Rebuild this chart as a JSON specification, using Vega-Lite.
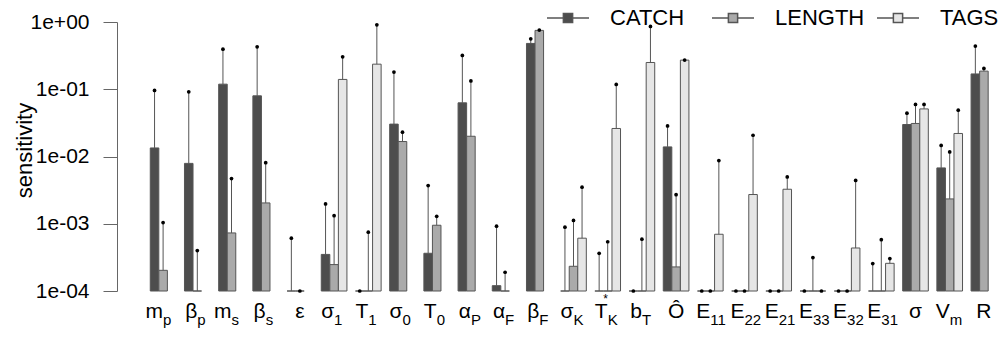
{
 "$schema": "https://vega.github.io/schema/vega-lite/v6.json",
 "width": 855, "height": 269,
 "autosize": {"type": "none"},
 "padding": {"left": 146, "top": 22, "right": 5, "bottom": 47},
 "config": {"view": {"stroke": null}, "font": "Liberation Sans"},
 "datasets": {
  "bars": [
   {"key": "mp", "series": "CATCH", "value": 0.0134, "upper": 0.096},
   {"key": "mp", "series": "LENGTH", "value": 0.000203, "upper": 0.00104},
   {"key": "bp", "series": "CATCH", "value": 0.0079, "upper": 0.0915},
   {"key": "bp", "series": "LENGTH", "value": 0.0001, "upper": 0.0004},
   {"key": "ms", "series": "CATCH", "value": 0.119, "upper": 0.395},
   {"key": "ms", "series": "LENGTH", "value": 0.00073, "upper": 0.0047},
   {"key": "bs", "series": "CATCH", "value": 0.0798, "upper": 0.427},
   {"key": "bs", "series": "LENGTH", "value": 0.00204, "upper": 0.0081},
   {"key": "eps", "series": "CATCH", "value": 0.0001, "upper": 0.00061},
   {"key": "eps", "series": "LENGTH", "value": 0.0001, "upper": 0.0001},
   {"key": "s1", "series": "CATCH", "value": 0.00035, "upper": 0.00197},
   {"key": "s1", "series": "LENGTH", "value": 0.000247, "upper": 0.00132},
   {"key": "s1", "series": "TAGS", "value": 0.14, "upper": 0.303},
   {"key": "T1", "series": "CATCH", "value": 0.0001, "upper": 0.0001},
   {"key": "T1", "series": "LENGTH", "value": 0.0001, "upper": 0.00075},
   {"key": "T1", "series": "TAGS", "value": 0.236, "upper": 0.908},
   {"key": "s0", "series": "CATCH", "value": 0.0303, "upper": 0.18},
   {"key": "s0", "series": "LENGTH", "value": 0.0167, "upper": 0.023},
   {"key": "T0", "series": "CATCH", "value": 0.000364, "upper": 0.0037},
   {"key": "T0", "series": "LENGTH", "value": 0.00095, "upper": 0.00129},
   {"key": "aP", "series": "CATCH", "value": 0.0628, "upper": 0.318},
   {"key": "aP", "series": "LENGTH", "value": 0.02, "upper": 0.133},
   {"key": "aF", "series": "CATCH", "value": 0.00012, "upper": 0.00092},
   {"key": "aF", "series": "LENGTH", "value": 0.0001, "upper": 0.00019},
   {"key": "bF", "series": "CATCH", "value": 0.48, "upper": 0.562},
   {"key": "bF", "series": "LENGTH", "value": 0.75, "upper": 0.76},
   {"key": "sK", "series": "CATCH", "value": 0.0001, "upper": 0.00089},
   {"key": "sK", "series": "LENGTH", "value": 0.000233, "upper": 0.00112},
   {"key": "sK", "series": "TAGS", "value": 0.00061, "upper": 0.0035},
   {"key": "TK", "series": "CATCH", "value": 0.0001, "upper": 0.000364},
   {"key": "TK", "series": "LENGTH", "value": 0.0001, "upper": 0.00054},
   {"key": "TK", "series": "TAGS", "value": 0.0261, "upper": 0.118},
   {"key": "bT", "series": "CATCH", "value": 0.0001, "upper": 0.0001},
   {"key": "bT", "series": "LENGTH", "value": 0.0001, "upper": 0.00059},
   {"key": "bT", "series": "TAGS", "value": 0.25, "upper": 0.86},
   {"key": "O", "series": "CATCH", "value": 0.0139, "upper": 0.0285},
   {"key": "O", "series": "LENGTH", "value": 0.000228, "upper": 0.0027},
   {"key": "O", "series": "TAGS", "value": 0.271, "upper": 0.272},
   {"key": "E11", "series": "CATCH", "value": 0.0001, "upper": 0.0001},
   {"key": "E11", "series": "LENGTH", "value": 0.0001, "upper": 0.0001},
   {"key": "E11", "series": "TAGS", "value": 0.000698, "upper": 0.0087},
   {"key": "E22", "series": "CATCH", "value": 0.0001, "upper": 0.0001},
   {"key": "E22", "series": "LENGTH", "value": 0.0001, "upper": 0.0001},
   {"key": "E22", "series": "TAGS", "value": 0.00272, "upper": 0.0207},
   {"key": "E21", "series": "CATCH", "value": 0.0001, "upper": 0.0001},
   {"key": "E21", "series": "LENGTH", "value": 0.0001, "upper": 0.0001},
   {"key": "E21", "series": "TAGS", "value": 0.00326, "upper": 0.00497},
   {"key": "E33", "series": "CATCH", "value": 0.0001, "upper": 0.0001},
   {"key": "E33", "series": "LENGTH", "value": 0.0001, "upper": 0.000314},
   {"key": "E33", "series": "TAGS", "value": 0.0001, "upper": 0.0001},
   {"key": "E32", "series": "CATCH", "value": 0.0001, "upper": 0.0001},
   {"key": "E32", "series": "LENGTH", "value": 0.0001, "upper": 0.0001},
   {"key": "E32", "series": "TAGS", "value": 0.000436, "upper": 0.0044},
   {"key": "E31", "series": "CATCH", "value": 0.0001, "upper": 0.000256},
   {"key": "E31", "series": "LENGTH", "value": 0.0001, "upper": 0.00058},
   {"key": "E31", "series": "TAGS", "value": 0.000258, "upper": 0.000303},
   {"key": "sig", "series": "CATCH", "value": 0.0299, "upper": 0.044},
   {"key": "sig", "series": "LENGTH", "value": 0.031, "upper": 0.0594},
   {"key": "sig", "series": "TAGS", "value": 0.051, "upper": 0.0594},
   {"key": "Vm", "series": "CATCH", "value": 0.00677, "upper": 0.0146},
   {"key": "Vm", "series": "LENGTH", "value": 0.00234, "upper": 0.0117},
   {"key": "Vm", "series": "TAGS", "value": 0.022, "upper": 0.0489},
   {"key": "R", "series": "CATCH", "value": 0.169, "upper": 0.438},
   {"key": "R", "series": "LENGTH", "value": 0.186, "upper": 0.204}
  ],
  "labels": [
   {"key": "mp", "base": "m", "sub": "p", "sup": ""},
   {"key": "bp", "base": "β", "sub": "p", "sup": ""},
   {"key": "ms", "base": "m", "sub": "s", "sup": ""},
   {"key": "bs", "base": "β", "sub": "s", "sup": ""},
   {"key": "eps", "base": "ε", "sub": "", "sup": ""},
   {"key": "s1", "base": "σ", "sub": "1", "sup": ""},
   {"key": "T1", "base": "T", "sub": "1", "sup": ""},
   {"key": "s0", "base": "σ", "sub": "0", "sup": ""},
   {"key": "T0", "base": "T", "sub": "0", "sup": ""},
   {"key": "aP", "base": "α", "sub": "P", "sup": ""},
   {"key": "aF", "base": "α", "sub": "F", "sup": ""},
   {"key": "bF", "base": "β", "sub": "F", "sup": ""},
   {"key": "sK", "base": "σ", "sub": "K", "sup": ""},
   {"key": "TK", "base": "T", "sub": "K", "sup": "*"},
   {"key": "bT", "base": "b", "sub": "T", "sup": ""},
   {"key": "O", "base": "Ô", "sub": "", "sup": ""},
   {"key": "E11", "base": "E", "sub": "11", "sup": ""},
   {"key": "E22", "base": "E", "sub": "22", "sup": ""},
   {"key": "E21", "base": "E", "sub": "21", "sup": ""},
   {"key": "E33", "base": "E", "sub": "33", "sup": ""},
   {"key": "E32", "base": "E", "sub": "32", "sup": ""},
   {"key": "E31", "base": "E", "sub": "31", "sup": ""},
   {"key": "sig", "base": "σ", "sub": "", "sup": ""},
   {"key": "Vm", "base": "V", "sub": "m", "sup": ""},
   {"key": "R", "base": "R", "sub": "", "sup": ""}
  ]
 },
 "encoding": {
  "x": {"field": "key", "type": "nominal", "axis": null,
        "scale": {"domain": ["mp","bp","ms","bs","eps","s1","T1","s0","T0","aP","aF","bF","sK","TK","bT","O","E11","E22","E21","E33","E32","E31","sig","Vm","R"],
                  "paddingInner": 0.25, "paddingOuter": 0.125}}
 },
 "layer": [
  {
   "data": {"name": "bars"},
   "mark": {"type": "bar", "stroke": "#555", "strokeWidth": 1},
   "encoding": {
    "xOffset": {"field": "series", "type": "nominal", "scale": {"domain": ["CATCH","LENGTH","TAGS"], "paddingInner": 0, "paddingOuter": 0}},
    "y": {"field": "value", "type": "quantitative",
          "scale": {"type": "log", "domain": [0.0001, 1], "nice": false},
          "axis": {"values": [0.0001, 0.001, 0.01, 0.1, 1],
                   "labelExpr": "datum.value >= 1 ? '1e+00' : '1e-0' + round(-log(datum.value)/LN10)",
                   "offset": 29, "domainColor": "#666", "tickColor": "#666", "tickSize": 14,
                   "labelPadding": 14, "labelFontSize": 21, "labelColor": "black", "grid": false,
                   "title": "sensitivity", "titleFontSize": 22, "titleFontWeight": "normal", "titleColor": "black",
                   "titleAngle": -90, "titleX": -93, "titleY": 128, "titleAlign": "center", "titleBaseline": "middle"}},
    "y2": {"datum": 0.0001},
    "fill": {"field": "series", "type": "nominal",
             "scale": {"domain": ["CATCH","LENGTH","TAGS"], "range": ["#4d4d4d", "#aaaaaa", "#e6e6e6"]},
             "legend": {"orient": "none", "legendX": 400, "legendY": -26, "direction": "horizontal", "title": null,
                        "symbolType": "M-1,0H-0.22M0.22,0H1M-0.22,-0.22H0.22V0.22H-0.22Z", "symbolSize": 1764,
                        "labelFontSize": 22, "labelOffset": 20, "columnPadding": 9, "gridAlign": "all",
                        "labelColor": "black", "padding": 0,
                        "encode": {"symbols": {"update": {"stroke": {"value": "#666"}, "strokeWidth": {"value": 1}, "opacity": {"value": 1}}}}}}
   }
  },
  {
   "data": {"name": "bars"},
   "mark": {"type": "rule", "color": "#555", "strokeWidth": 1},
   "encoding": {
    "xOffset": {"field": "series", "type": "nominal"},
    "y": {"field": "upper", "type": "quantitative"},
    "y2": {"field": "value"}
   }
  },
  {
   "data": {"name": "bars"},
   "mark": {"type": "point", "filled": true, "color": "black", "size": 14, "opacity": 1},
   "encoding": {
    "xOffset": {"field": "series", "type": "nominal"},
    "y": {"field": "upper", "type": "quantitative"}
   }
  },
  {
   "data": {"name": "labels"},
   "transform": [{"filter": "datum.sub != ''"}],
   "mark": {"type": "text", "align": "right", "baseline": "alphabetic", "dy": 27, "fontSize": 21, "color": "black"},
   "encoding": {"y": {"datum": 0.0001}, "text": {"field": "base"}}
  },
  {
   "data": {"name": "labels"},
   "transform": [{"filter": "datum.sub != ''"}],
   "mark": {"type": "text", "align": "left", "baseline": "alphabetic", "dy": 34, "fontSize": 15, "color": "black"},
   "encoding": {"y": {"datum": 0.0001}, "text": {"field": "sub"}}
  },
  {
   "data": {"name": "labels"},
   "transform": [{"filter": "datum.sub == ''"}],
   "mark": {"type": "text", "align": "center", "baseline": "alphabetic", "dy": 27, "fontSize": 21, "color": "black"},
   "encoding": {"y": {"datum": 0.0001}, "text": {"field": "base"}}
  },
  {
   "data": {"name": "labels"},
   "transform": [{"filter": "datum.sup != ''"}],
   "mark": {"type": "text", "align": "center", "baseline": "alphabetic", "dx": -2, "dy": 12, "fontSize": 12, "color": "black"},
   "encoding": {"y": {"datum": 0.0001}, "text": {"field": "sup"}}
  }
 ]
}
